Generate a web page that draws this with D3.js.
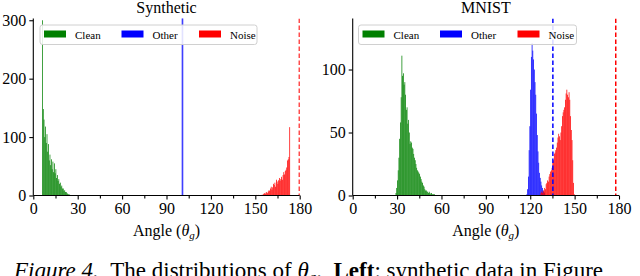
<!DOCTYPE html>
<html lang="en">
<head>
<meta charset="utf-8">
<title>Angle distributions</title>
<script src="https://cdn.jsdelivr.net/npm/d3@7"></script>
<style>
  body { margin: 0; background: #fff; }
  svg { font-family: "Liberation Serif", "DejaVu Serif", serif; }
</style>
</head>
<body>
<script>
var binWidth = 0.5
var angleTicks = [0, 30, 60, 90, 120, 150, 180]
var minorTicks = [15, 45, 75, 105, 135, 165]
var seriesNames = ["Clean", "Other", "Noise"]
var seriesColors = ["#008000", "#0000ff", "#ff0000"]

// Synthetic
var synCleanStart = 6
var synClean = [300, 148, 130, 100, 118, 90, 105, 75, 88, 60, 70, 52, 62, 45, 58, 40, 55, 38,
  45, 30, 35, 25, 28, 20, 22, 15, 17, 12, 12, 8, 9, 6, 6, 4, 3, 2, 2, 1]
var synOtherStart = 100.3
var synOther = [2000, 2000]   // goes far past the top of the axes
var synNoiseStart = 150.5
var synNoise = [1, 0, 0, 1, 0, 0, 0, 1, 0, 2, 3, 4, 3, 5, 6, 4, 7, 9, 8, 12, 15, 10, 14, 20,
  18, 22, 15, 27, 24, 20, 26, 30, 25, 28, 32, 27, 35, 40, 36, 42, 44, 48, 60, 62, 66, 117]
var synYTicks = [0, 100, 200, 300]
var synLines = [{ x: 179.8, color: "#ff0000" }]

// MNIST
var mnCleanStart = 29
var mnClean = [2, 6, 12, 20, 30, 45, 58, 78, 111, 95, 97, 88, 90, 80, 68, 70, 57, 60, 50, 41,
  43, 42, 38, 37, 33, 30, 28, 25, 22, 20, 19, 18, 17, 15, 13, 11, 10, 8, 7, 5, 4, 4, 3, 3,
  2, 3, 2, 1, 2, 1, 1, 1, 1]
var mnOtherStart = 117.5
var mnOther = [1, 5, 15, 36, 55, 84, 110, 121, 115, 108, 100, 90, 80, 65, 48, 35, 26, 18, 14,
  11, 8, 6, 4, 3, 2]
var mnNoiseStart = 127
var mnNoise = [2, 3, 2, 4, 3, 6, 5, 9, 10, 12, 11, 15, 17, 19, 20, 22, 26, 28, 33, 34, 36, 38,
  42, 46, 49, 47, 44, 50, 55, 63, 66, 68, 70, 76, 81, 84, 80, 78, 82, 76, 63, 52, 44, 28, 10, 1]
var mnYTicks = [0, 50, 100]
var mnLines = [{ x: 135.3, color: "#0000ff" }, { x: 177.8, color: "#ff0000" }]

var W = 640, H = 276
var svg = d3.select("body").append("svg")
  .attr("width", W)
  .attr("height", H)

function toBins(start, counts) {
  return counts.map(function (c, i) { return { x0: start + i * binWidth, x1: start + (i + 1) * binWidth, n: c } })
}

var panels = [
  {
    id: "syn", title: "Synthetic", left: 33.3, right: 299.7, ymax: 303,
    yTicks: synYTicks, lines: synLines,
    series: [toBins(synCleanStart, synClean), toBins(synOtherStart, synOther), toBins(synNoiseStart, synNoise)],
    legendX: 40, legendW: 217
  },
  {
    id: "mn", title: "MNIST", left: 352.7, right: 619, ymax: 140.5,
    yTicks: mnYTicks, lines: mnLines,
    series: [toBins(mnCleanStart, mnClean), toBins(mnOtherStart, mnOther), toBins(mnNoiseStart, mnNoise)],
    legendX: 358.5, legendW: 218
  }
]

var plotTop = 18.5, plotBottom = 195.5

panels.forEach(function (p) {
  var x = d3.scaleLinear().domain([0, 180]).range([p.left, p.right])
  var y = d3.scaleLinear().domain([0, p.ymax]).range([plotBottom, plotTop])
  var g = svg.append("g")

  svg.append("clipPath").attr("id", "clip-" + p.id)
    .append("rect")
    .attr("x", p.left).attr("y", plotTop)
    .attr("width", p.right - p.left).attr("height", plotBottom - plotTop)

  var plot = g.append("g").attr("clip-path", "url(#clip-" + p.id + ")")

  // histograms
  p.series.forEach(function (bins, si) {
    plot.selectAll("rect.s" + si)
      .data(bins.filter(function (d) { return d.n > 0 }))
      .enter().append("rect")
      .attr("class", "s" + si)
      .attr("x", function (d) { return x(d.x0) })
      .attr("width", function (d) { return x(d.x1) - x(d.x0) })
      .attr("y", function (d) { return y(d.n) })
      .attr("height", function (d) { return y(0) - y(d.n) })
      .attr("fill", seriesColors[si])
  })

  // dashed reference lines
  plot.selectAll("line.ref")
    .data(p.lines)
    .enter().append("line")
    .attr("class", "ref")
    .attr("x1", function (d) { return x(d.x) })
    .attr("x2", function (d) { return x(d.x) })
    .attr("y1", plotTop)
    .attr("y2", plotBottom)
    .attr("stroke", function (d) { return d.color })
    .attr("stroke-width", 1.5)
    .attr("stroke-dasharray", "4.5,2.5")

  // axes
  var xAxis = g.append("g").attr("transform", "translate(0," + plotBottom + ")")
    .call(d3.axisBottom(x).tickValues(angleTicks).tickSize(4).tickPadding(3).tickFormat(d3.format("d")))
  g.append("g").attr("transform", "translate(0," + plotBottom + ")")
    .call(d3.axisBottom(x).tickValues(minorTicks).tickSize(3).tickFormat(""))
    .select(".domain").remove()

  var yAxis = g.append("g").attr("transform", "translate(" + p.left + ",0)")
    .call(d3.axisLeft(y).tickValues(p.yTicks).tickSize(4).tickPadding(3))

  g.selectAll(".tick text")
    .attr("font-size", 16)
    .attr("font-family", "Liberation Serif")
    .attr("fill", "#000")
  g.selectAll(".domain, .tick line").attr("stroke", "#000").attr("stroke-width", 1.1)
  xAxis.select(".domain").attr("d", "M" + p.left + ",0H" + p.right)
  yAxis.select(".domain").attr("d", "M0," + plotBottom + "V" + plotTop)

  // title
  g.append("text")
    .attr("x", (p.left + p.right) / 2)
    .attr("y", 12.5)
    .attr("text-anchor", "middle")
    .attr("font-size", 16)
    .text(p.title)

  // x label
  var lab = g.append("text")
    .attr("x", (p.left + p.right) / 2)
    .attr("y", 236)
    .attr("text-anchor", "middle")
    .attr("font-size", 16)
  lab.append("tspan").text("Angle (")
  lab.append("tspan").attr("font-style", "italic").text("θ")
  lab.append("tspan").attr("font-style", "italic").attr("font-size", 11).attr("dy", 3).text("g")
  lab.append("tspan").attr("dy", -3).text(")")

  // legend
  var lg = g.append("g")
  lg.append("rect")
    .attr("x", p.legendX).attr("y", 25)
    .attr("width", p.legendW).attr("height", 19.5)
    .attr("rx", 2.5)
    .attr("fill", "#fff").attr("fill-opacity", 0.85)
    .attr("stroke", "#d0d0d0").attr("stroke-width", 1)
  seriesNames.forEach(function (name, i) {
    var ex = p.legendX + 4 + i * 77.5
    lg.append("rect")
      .attr("x", ex).attr("y", 30.5)
      .attr("width", 22).attr("height", 7)
      .attr("fill", seriesColors[i])
    lg.append("text")
      .attr("x", ex + 31).attr("y", 38.5)
      .attr("font-size", 11)
      .text(name)
  })
})

// caption, cut off at the bottom edge like the source
var cap = svg.append("text")
  .attr("x", 14)
  .attr("y", 278)
  .attr("font-size", 23)
cap.append("tspan").attr("font-style", "italic").text("Figure 4.")
cap.append("tspan").text("\u2002The distributions of ")
cap.append("tspan").attr("font-style", "italic").text("θ")
cap.append("tspan").attr("font-style", "italic").attr("font-size", 15).attr("dy", 4).text("g")
cap.append("tspan").attr("dy", -4).text(".\u2002")
cap.append("tspan").attr("font-weight", "bold").text("Left")
cap.append("tspan").text(": synthetic data in Figure")
</script>
</body>
</html>
